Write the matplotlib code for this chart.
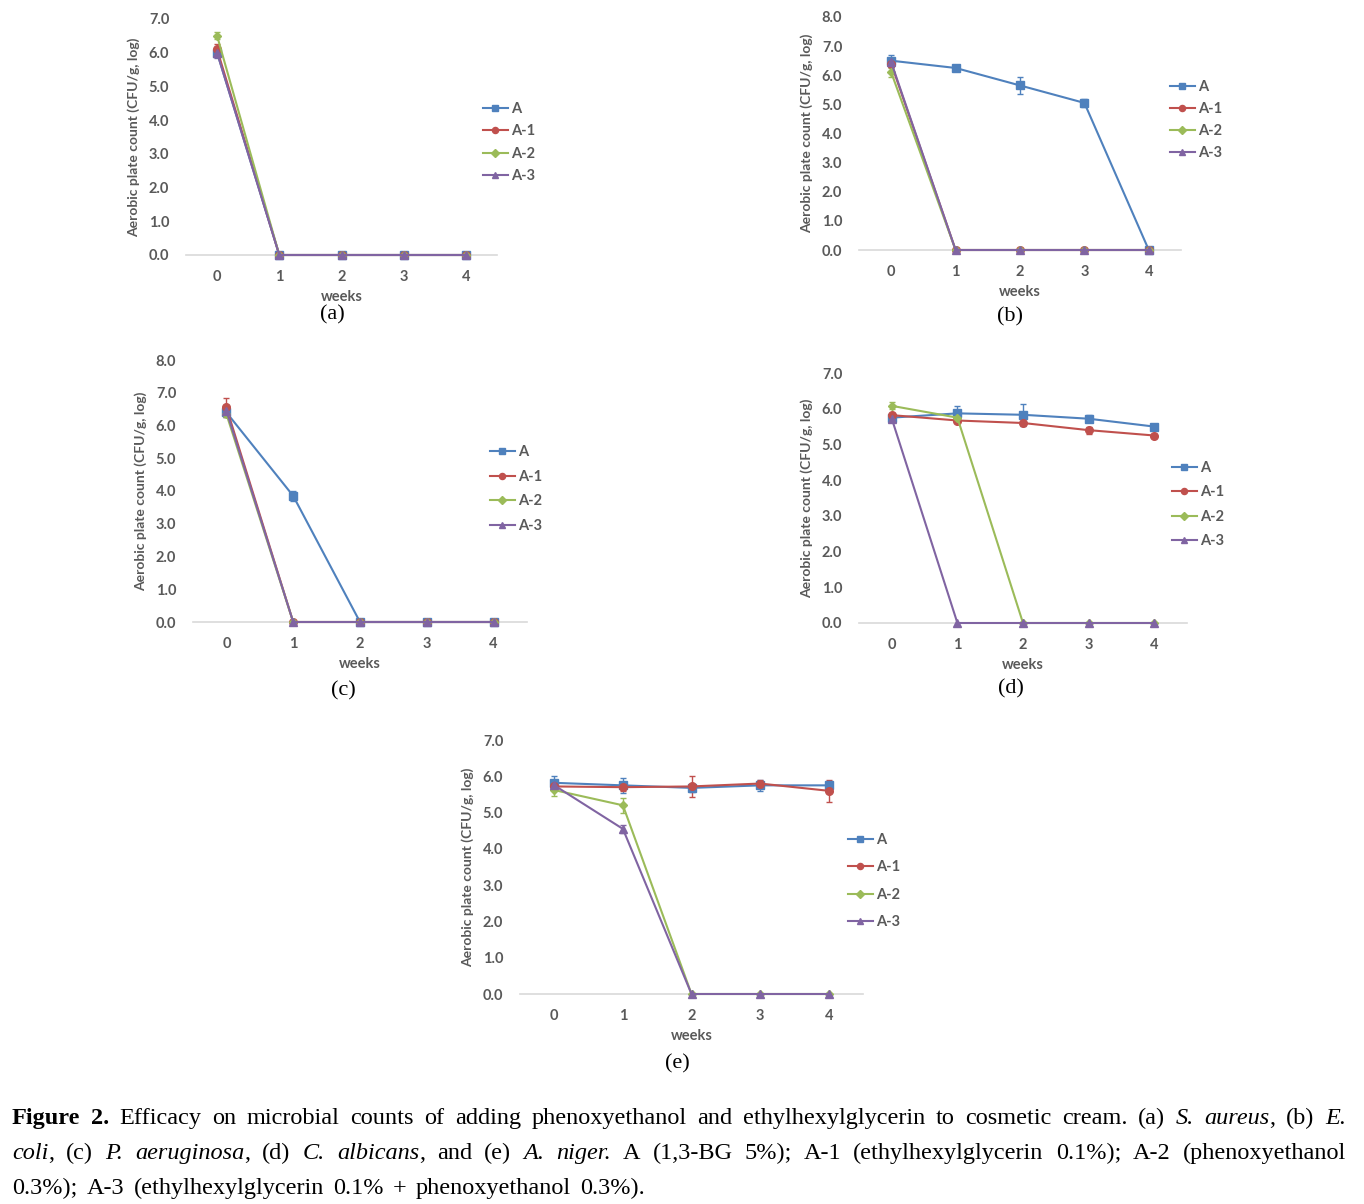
import re
import matplotlib.pyplot as plt
import numpy as np

W, H = 1364, 1204

weeks = [0, 1, 2, 3, 4]
names = ['A', 'A-1', 'A-2', 'A-3']
colors = ['#4F81BD', '#C0504D', '#9BBB59', '#8064A2']
markers = ['s', 'o', 'D', '^']
msizes = [5.5, 5.5, 4.5, 6]

# (a) S. aureus
a_A = [6.0, 0, 0, 0, 0]
a_A1 = [6.1, 0, 0, 0, 0]
a_A2 = [6.5, 0, 0, 0, 0]
a_A3 = [6.0, 0, 0, 0, 0]
a_eA = [0.1, 0, 0, 0, 0]
a_eA1 = [0.15, 0, 0, 0, 0]
a_eA2 = [0.1, 0, 0, 0, 0]
a_eA3 = [0.15, 0, 0, 0, 0]

# (b) E. coli
b_A = [6.5, 6.25, 5.65, 5.05, 0]
b_A1 = [6.4, 0, 0, 0, 0]
b_A2 = [6.1, 0, 0, 0, 0]
b_A3 = [6.45, 0, 0, 0, 0]
b_eA = [0.2, 0.05, 0.3, 0.15, 0]
b_eA1 = [0.1, 0, 0, 0, 0]
b_eA2 = [0.15, 0, 0, 0, 0]
b_eA3 = [0.1, 0, 0, 0, 0]

# (c) P. aeruginosa
c_A = [6.4, 3.85, 0, 0, 0]
c_A1 = [6.55, 0, 0, 0, 0]
c_A2 = [6.35, 0, 0, 0, 0]
c_A3 = [6.45, 0, 0, 0, 0]
c_eA = [0.15, 0.15, 0, 0, 0]
c_eA1 = [0.3, 0, 0, 0, 0]
c_eA2 = [0.1, 0, 0, 0, 0]
c_eA3 = [0.1, 0, 0, 0, 0]

# (d) C. albicans
d_A = [5.75, 5.87, 5.83, 5.72, 5.5]
d_A1 = [5.82, 5.67, 5.6, 5.4, 5.25]
d_A2 = [6.08, 5.75, 0, 0, 0]
d_A3 = [5.72, 0, 0, 0, 0]
d_eA = [0.05, 0.2, 0.3, 0.1, 0.05]
d_eA1 = [0.05, 0.05, 0.05, 0.1, 0.05]
d_eA2 = [0.1, 0.1, 0, 0, 0]
d_eA3 = [0.05, 0, 0, 0, 0]

# (e) A. niger
e_A = [5.82, 5.75, 5.68, 5.75, 5.75]
e_A1 = [5.72, 5.7, 5.72, 5.8, 5.6]
e_A2 = [5.62, 5.2, 0, 0, 0]
e_A3 = [5.75, 4.55, 0, 0, 0]
e_eA = [0.2, 0.2, 0.1, 0.15, 0.05]
e_eA1 = [0.1, 0.1, 0.3, 0.1, 0.3]
e_eA2 = [0.15, 0.2, 0, 0, 0]
e_eA3 = [0.1, 0.1, 0, 0, 0]

ylabel = 'Aerobic plate count (CFU/g, log)'
gray = '#595959'

plt.rcParams['font.family'] = ['Lato', 'DejaVu Sans']

fig = plt.figure(figsize=(W / 100, H / 100), dpi=100)


def panel(left, right, y0, ytop, ymax, vals, errs, legx, legy, leggap, tag, tagx, tagy):
    ax = fig.add_axes([left / W, 1 - y0 / H, (right - left) / W, (y0 - ytop) / H])
    for v, e, c, m, ms, n in zip(vals, errs, colors, markers, msizes, names):
        ax.plot(weeks, v, color=c, lw=1.5, marker=m, ms=ms, label=n, clip_on=False, zorder=3)
        idx = [i for i in range(len(v)) if e[i] > 0]
        if idx:
            ax.errorbar([weeks[i] for i in idx], [v[i] for i in idx], yerr=[e[i] for i in idx],
                        fmt='none', ecolor=c, elinewidth=1, capsize=2.5, capthick=1, zorder=2)
    ax.set_xlim(-0.5, 4.5)
    ax.set_ylim(0, ymax)
    ax.set_xticks(weeks)
    ax.set_yticks(np.arange(0, ymax + 0.5, 1.0))
    ax.set_yticklabels(['%.1f' % t for t in np.arange(0, ymax + 0.5, 1.0)])
    for s in ['top', 'right', 'left']:
        ax.spines[s].set_visible(False)
    ax.spines['bottom'].set_color('#D9D9D9')
    ax.spines['bottom'].set_linewidth(1.2)
    ax.tick_params(axis='y', length=0, pad=12, labelsize=10.5, labelcolor=gray)
    ax.tick_params(axis='x', length=0, pad=11, labelsize=10.5, labelcolor=gray)
    for t in ax.get_xticklabels() + ax.get_yticklabels():
        t.set_fontweight('bold')
    ax.set_xlabel('weeks', fontsize=10.5, color=gray, fontweight='bold', labelpad=4)
    ax.set_ylabel(ylabel, fontsize=10, color=gray, fontweight='bold', labelpad=6)
    fs = 10.5
    fig.legend(*ax.get_legend_handles_labels(), loc='upper left',
               bbox_to_anchor=(legx / W, 1 - (legy - 5) / H), frameon=False,
               fontsize=fs, labelspacing=(leggap - 14.6) / 14.6, handlelength=1.7,
               handletextpad=0.2, borderpad=0, borderaxespad=0, markerscale=0.8,
               labelcolor=gray, prop={'weight': 'bold', 'size': fs})
    fig.text(tagx / W, 1 - tagy / H, tag, ha='center', va='center', fontsize=16,
             family='Liberation Serif')
    return ax


panel(186, 497, 255, 19, 7, [a_A, a_A1, a_A2, a_A3], [a_eA, a_eA1, a_eA2, a_eA3],
      483, 107, 23, '(a)', 332, 315)
panel(859, 1181, 250, 17, 8, [b_A, b_A1, b_A2, b_A3], [b_eA, b_eA1, b_eA2, b_eA3],
      1170, 85, 22.5, '(b)', 1010, 317)
panel(193, 527, 622, 360, 8, [c_A, c_A1, c_A2, c_A3], [c_eA, c_eA1, c_eA2, c_eA3],
      490, 450, 25.3, '(c)', 343, 691)
panel(859, 1187, 623, 373, 7, [d_A, d_A1, d_A2, d_A3], [d_eA, d_eA1, d_eA2, d_eA3],
      1172, 466, 25, '(d)', 1011, 689)
panel(520, 863, 994, 740, 7, [e_A, e_A1, e_A2, e_A3], [e_eA, e_eA1, e_eA2, e_eA3],
      848, 838, 28, '(e)', 677, 1064)

# caption, justified word by word
cap_lines = [
    '*Figure* *2.* Efficacy on microbial counts of adding phenoxyethanol and ethylhexylglycerin '
    'to cosmetic cream. (a) _S._ _aureus_, (b) _E._',
    '_coli_, (c) _P._ _aeruginosa_, (d) _C._ _albicans_, and (e) _A._ _niger._ A (1,3-BG 5%); '
    'A-1 (ethylhexylglycerin 0.1%); A-2 (phenoxyethanol',
    '0.3%); A-3 (ethylhexylglycerin 0.1% + phenoxyethanol 0.3%).',
]
cap_right = [1346, 1346, 645]
cap_base = [1124, 1159, 1194]
cap_fs = 17.5
renderer = fig.canvas.get_renderer()


def pieces(word):
    out, it, bd = [], False, False
    for p in re.split(r'([_*])', word):
        if p == '_':
            it = not it
        elif p == '*':
            bd = not bd
        elif p:
            out.append((p, it, bd))
    return out


def mk(x, y, txt, it, bd):
    return fig.text(x, y, txt, fontsize=cap_fs, family='Liberation Serif',
                    style='italic' if it else 'normal', weight='bold' if bd else 'normal',
                    va='baseline', ha='left')


for line, xr, yb in zip(cap_lines, cap_right, cap_base):
    words = [pieces(w) for w in line.split(' ')]
    widths = []
    for w in words:
        tot = 0
        for txt, it, bd in w:
            t = mk(0, 0, txt, it, bd)
            tot += t.get_window_extent(renderer).width
            t.remove()
        widths.append(tot)
    gap = (xr - 12 - sum(widths)) / (len(words) - 1)
    x = 12
    for w, wd in zip(words, widths):
        xx = x
        for txt, it, bd in w:
            t = mk(xx / W, 1 - yb / H, txt, it, bd)
            xx += t.get_window_extent(renderer).width
        x += wd + gap

fig.savefig('out.png', dpi=100)
